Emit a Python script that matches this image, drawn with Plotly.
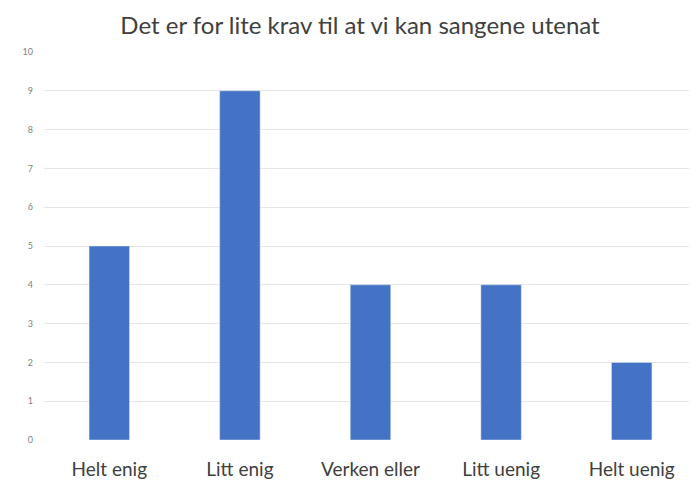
import plotly.graph_objects as go

categories = ["Helt enig", "Litt enig", "Verken eller", "Litt uenig", "Helt uenig"]
values = [5, 9, 4, 4, 2]
y_ticks = list(range(0, 11))

fig = go.Figure(go.Bar(x=categories, y=values, marker_color="#4472C4", width=0.31))

fig.update_layout(
    width=697, height=482,
    margin=dict(l=36, r=8, t=44, b=50),
    paper_bgcolor="white", plot_bgcolor="white",
    title=dict(text="Det er for lite krav til at vi kan sangene utenat",
               x=0.505, xanchor="center", y=0.964, yanchor="middle",
               font=dict(family="Lato", size=24, color="#404040")),
    showlegend=False,
    font=dict(family="Lato", color="#595959"),
)
fig.update_yaxes(range=[0, 10], tickvals=y_ticks, showgrid=True, gridcolor="#e6e6e6",
                 gridwidth=1, zeroline=False, showline=False, automargin=False,
                 tickfont=dict(size=9, color="#7f7f7f"), ticks="", ticklabelstandoff=10)
fig.update_xaxes(showline=False, ticks="", tickfont=dict(size=19, color="#404040"),
                 range=[-0.5, 4.5], automargin=False, ticklabelstandoff=16)

fig.write_html("out.html")
